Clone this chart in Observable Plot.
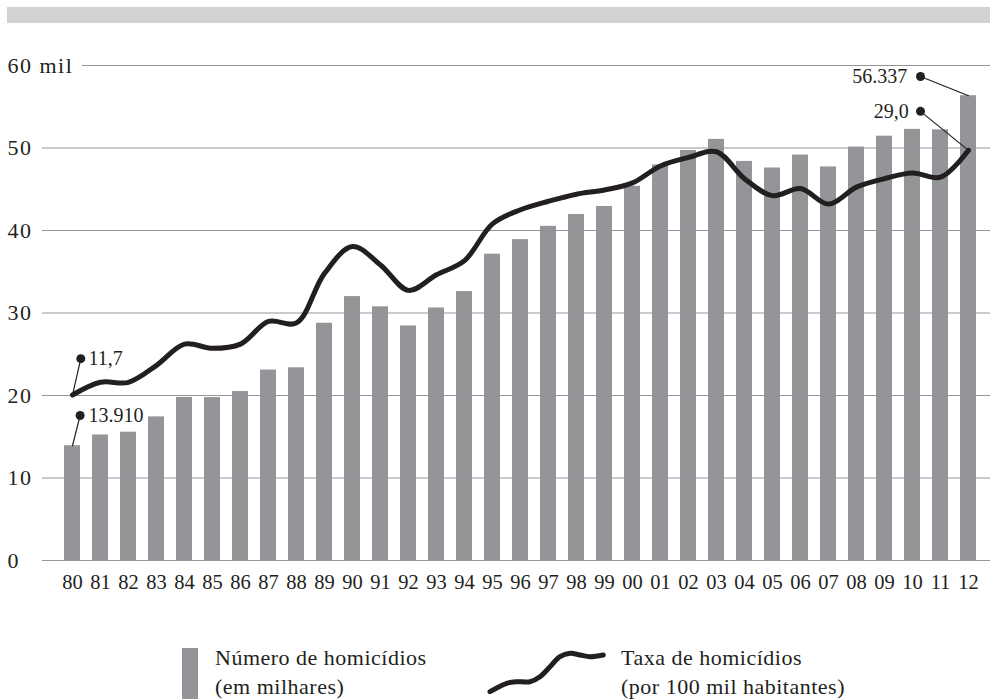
<!DOCTYPE html>
<html>
<head>
<meta charset="utf-8">
<script src="https://cdn.jsdelivr.net/npm/d3@7"></script>
<script src="https://cdn.jsdelivr.net/npm/@observablehq/plot@0.6"></script>
<style>
  html, body { margin: 0; padding: 0; background: #fff; }
  body { width: 994px; height: 699px; position: relative; overflow: hidden;
         font-family: "Liberation Serif", "DejaVu Serif", serif; color: #231f20; }
  #topbar { position: absolute; left: 7px; top: 7px; width: 983px; height: 16px; background: #d1d2d4; }
  #chart { position: absolute; left: 0; top: 0; }
  .leg-swatch { position: absolute; left: 182px; top: 648px; width: 16px; height: 51px; background: #939598; }
  .leg-text { position: absolute; font-size: 22px; line-height: 29px; letter-spacing: 0.5px; white-space: nowrap; }
  #wave { position: absolute; left: 485px; top: 645px; }
</style>
</head>
<body>
<div id="topbar"></div>
<div id="chart"></div>
<div class="leg-swatch"></div>
<div class="leg-text" style="left:215px; top:643px;">Número de homicídios<br>(em milhares)</div>
<svg id="wave" width="125" height="54"></svg>
<div class="leg-text" style="left:621px; top:643px;">Taxa de homicídios<br>(por 100 mil habitantes)</div>
<script>
// ---- Data ----
const years = ["80","81","82","83","84","85","86","87","88","89","90","91","92","93","94","95","96","97","98","99","00","01","02","03","04","05","06","07","08","09","10","11","12"];
const homicides = [13910, 15213, 15550, 17408, 19767, 19747, 20481, 23087, 23357, 28757, 31989, 30750, 28435, 30610, 32603, 37129, 38894, 40507, 41950, 42914, 45360, 47943, 49695, 51043, 48374, 47578, 49145, 47707, 50113, 51434, 52260, 52198, 56337];
const rates = [11.7, 12.6, 12.6, 13.8, 15.3, 15.0, 15.3, 16.9, 16.8, 20.3, 22.2, 20.9, 19.1, 20.2, 21.2, 23.8, 24.8, 25.4, 25.9, 26.2, 26.7, 27.9, 28.5, 28.9, 27.0, 25.8, 26.3, 25.2, 26.4, 27.0, 27.4, 27.1, 29.0];
const yTicks = [0, 10, 20, 30, 40, 50, 60];
const rateMax = 35; // secondary (hidden) scale: 0–35 per 100 mil maps onto 0–60 mil
const annotatedYears = ["80", "12"];

// ---- Build table ----
const data = years.map((y, i) => ({year: y, count: homicides[i] / 1000, rate: rates[i], rateY: rates[i] * 60 / rateMax}));
const byYear = Object.fromEntries(data.map(d => [d.year, d]));
const ptBR = d3.formatLocale({decimal: ",", thousands: ".", grouping: [3], currency: ["R$", ""]});
const fmtCount = ptBR.format(",d");
const fmtRate = ptBR.format(".1f");

const ink = "#231f20";
const barGray = "#939598";
const lineShape = {draw(context, l) { context.moveTo(0, 0); context.lineTo(0, -l); }};

// annotation helper: leader line + dot + label, offsets are pure styling
function annotate(rows, yField, label, [ox, oy], textDx, anchor) {
  return [
    Plot.vector(rows, {x: "year", y: yField, anchor: "start", shape: lineShape,
      length: Math.hypot(ox, oy), rotate: Math.atan2(ox, -oy) * 180 / Math.PI,
      stroke: ink, strokeWidth: 1.2}),
    Plot.dot(rows, {x: "year", y: yField, dx: ox, dy: oy, r: 4.5, fill: ink, stroke: "none"}),
    Plot.text(rows, {x: "year", y: yField, dx: textDx, dy: oy, text: label, textAnchor: anchor,
      lineAnchor: "middle", fontSize: 20, fill: ink})
  ];
}

const first = [byYear[annotatedYears[0]]];
const last = [byYear[annotatedYears[1]]];

const chart = Plot.plot({
  width: 994,
  height: 600,
  marginTop: 65,
  marginBottom: 40,
  marginLeft: 42,
  marginRight: 4,
  style: {fontFamily: "'Liberation Serif', 'DejaVu Serif', serif", fontSize: "20px", color: ink, background: "transparent"},
  x: {type: "band", domain: years, range: [52.3, 987], paddingInner: 0.418, paddingOuter: 0, align: 0.5},
  y: {domain: [0, 60], ticks: yTicks},
  marks: [
    Plot.ruleY(yTicks.filter(d => d < 60), {stroke: barGray, strokeWidth: 1.2}),
    Plot.ruleY(yTicks.filter(d => d === 60), {stroke: barGray, strokeWidth: 1.2, insetLeft: 40}),
    Plot.barY(data, {x: "year", y: "count", fill: barGray}),
    Plot.lineY(data, {x: "year", y: "rateY", stroke: ink, strokeWidth: 5, curve: "catmull-rom", strokeLinecap: "round", strokeLinejoin: "round"}),
    ...annotate(first, "rateY", d => fmtRate(d.rate), [8.3, -36.4], 16, "start"),
    ...annotate(first, "count", d => fmtCount(homicides[0]), [7.6, -30.2], 16, "start"),
    ...annotate(last, "count", d => fmtCount(homicides[homicides.length - 1]), [-48, -19.2], -61.3, "end"),
    ...annotate(last, "rateY", d => fmtRate(d.rate), [-48, -39], -59.7, "end"),
    Plot.axisY({ticks: yTicks, tickSize: 0, tickPadding: 0, textAnchor: "start", dx: -35,
      tickFormat: d => d === 60 ? "60 mil" : String(d), label: null, fontSize: 22}),
    Plot.axisX({tickSize: 0, tickPadding: 14, label: null, fontSize: 20.5})
  ]
});
d3.select(chart).selectAll('g[aria-label="y-axis tick label"] text').style("letter-spacing", "1.5px");
document.getElementById("chart").appendChild(chart);

// ---- Legend wave glyph ----
const wavePts = [[5,46.7],[21.7,38.3],[31.7,36.7],[45,36.7],[55,31.7],[65,21.7],[75,11.7],[85,8.3],[95,10],[105,11.7],[118.3,10]];
d3.select("#wave").append("path")
  .attr("d", d3.line().curve(d3.curveCatmullRom)(wavePts))
  .attr("fill", "none").attr("stroke", ink).attr("stroke-width", 5).attr("stroke-linecap", "round");
</script>
</body>
</html>
